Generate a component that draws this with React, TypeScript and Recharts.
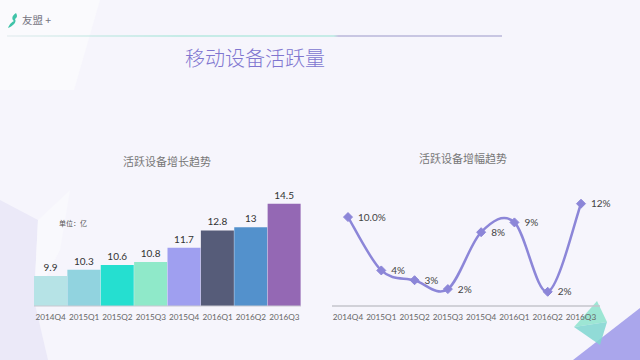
import { BarChart, Bar, LineChart, Line, XAxis, YAxis, Cell, LabelList } from "recharts"

const quarters = ["2014Q4", "2015Q1", "2015Q2", "2015Q3", "2015Q4", "2016Q1", "2016Q2", "2016Q3"]
const activeDevices = [9.9, 10.3, 10.6, 10.8, 11.7, 12.8, 13, 14.5]
const barColors = ["#b6e3e6", "#91d3df", "#25dfd0", "#8fe9c9", "#9f9ff0", "#565c79", "#5391cc", "#9468b4"]
const growthRates = [10.0, 4.0, 2.9, 1.9, 8.3, 9.4, 1.6, 11.5]
const growthLabels = ["10.0%", "4%", "3%", "2%", "8%", "9%", "2%", "12%"]

const LINE_COLOR = "#8c86d8"
const TICK_FONT = "Lato, 'Open Sans', sans-serif"
const CJK_FONT = "'Noto Sans CJK SC', sans-serif"

const barData = quarters.map((q, i) => ({ q, v: activeDevices[i] }))
const lineData = quarters.map((q, i) => ({ q, v: growthRates[i], label: growthLabels[i] }))

// catmull-rom style smoothing (the reference overshoots a little, less than "natural")
function smoothCurve(context: any) {
  let pts: [number, number][] = []
  return {
    areaStart() {},
    areaEnd() {},
    lineStart() {
      pts = []
    },
    lineEnd() {
      if (!pts.length) return
      context.moveTo(pts[0][0], pts[0][1])
      for (let i = 0; i < pts.length - 1; i++) {
        const p0 = pts[Math.max(0, i - 1)]
        const p1 = pts[i]
        const p2 = pts[i + 1]
        const p3 = pts[Math.min(pts.length - 1, i + 2)]
        context.bezierCurveTo(
          p1[0] + (p2[0] - p0[0]) / 6,
          p1[1] + (p2[1] - p0[1]) / 6,
          p2[0] - (p3[0] - p1[0]) / 6,
          p2[1] - (p3[1] - p1[1]) / 6,
          p2[0],
          p2[1]
        )
      }
    },
    point(x: number, y: number) {
      pts.push([+x, +y])
    },
  }
}

function DiamondDot(props: { cx?: number; cy?: number }) {
  const { cx = 0, cy = 0 } = props
  const r = 4.5
  return (
    <path
      d={`M${cx},${cy - r}L${cx + r},${cy}L${cx},${cy + r}L${cx - r},${cy}Z`}
      fill={LINE_COLOR}
      stroke={LINE_COLOR}
      strokeWidth={1}
    />
  )
}

function Background() {
  return (
    <svg width={640} height={360} style={{ position: "absolute", left: 0, top: 0 }}>
      <defs>
        <linearGradient id="headLine" x1="0" y1="0" x2="1" y2="0">
          <stop offset="0%" stopColor="#dfe9ec" />
          <stop offset="35%" stopColor="#96e2d2" />
          <stop offset="66%" stopColor="#96e2d2" />
          <stop offset="67%" stopColor="#9b97c9" />
          <stop offset="100%" stopColor="#9b97c9" />
        </linearGradient>
      </defs>
      <rect width={640} height={360} fill="#f6f5fc" />
      <polygon points="0,0 100,0 74,90 0,90" fill="#fafafd" />
      <polygon points="0,200 38,220 34,300 48,360 0,360" fill="#ebe9f8" />
      <polygon points="38,220 70,190 60,250 34,300" fill="#f9f9fd" />
      {/* bottom right decoration */}
      <polygon points="640,308 573,360 640,360" fill="#aaa6ec" />
      <polygon points="597,301 607,322 574,327" fill="#93e4cf" opacity={0.9} />
      <polygon points="574,327 607,322 600,345" fill="#7fd6d0" opacity={0.85} />
      {/* header */}
      <path d="M16,13 C11,16 12,20 14,21 C10,23 9,26 8,28 C13,26 17,22 15,19 C18,17 17,15 16,13 Z" fill="#3fc3a8" />
      <text x={22} y={24} fontSize={10.5} fill="#74747f" fontFamily={CJK_FONT}>
        友盟 +
      </text>
      <rect x={7} y={35.5} width={495} height={1} fill="url(#headLine)" />
      <text x={255} y={66} fontSize={20} fontWeight={300} fill="#8076d0" textAnchor="middle" fontFamily={CJK_FONT}>
        移动设备活跃量
      </text>
      <text x={167} y={166} fontSize={11} fill="#777" textAnchor="middle" fontFamily={CJK_FONT}>
        活跃设备增长趋势
      </text>
      <text x={463} y={163} fontSize={11} fill="#777" textAnchor="middle" fontFamily={CJK_FONT}>
        活跃设备增幅趋势
      </text>
      <text x={59} y={226} fontSize={7} fill="#555" fontFamily={CJK_FONT}>
        单位：亿
      </text>
    </svg>
  )
}

export default function App() {
  return (
    <div style={{ position: "fixed", left: 0, top: 0, width: 640, height: 360, overflow: "hidden" }}>
      <Background />
      <div style={{ position: "absolute", left: 0, top: 170 }}>
        <BarChart
          width={320}
          height={170}
          data={barData}
          margin={{ top: 10, right: 19, bottom: 0, left: 34 }}
          barCategoryGap={0}
        >
          <XAxis
            dataKey="q"
            height={34}
            tickLine={false}
            axisLine={{ stroke: "#c8c8d0" }}
            tick={{ fontSize: 8.2, fill: "#666", fontFamily: TICK_FONT }}
            interval={0}
          />
          <YAxis hide domain={[8, 16]} />
          <Bar dataKey="v" isAnimationActive={false}>
            {barData.map((d, i) => (
              <Cell key={d.q} fill={barColors[i]} />
            ))}
            <LabelList
              dataKey="v"
              position="top"
              offset={5}
              style={{ fontSize: 10, fill: "#333", fontFamily: TICK_FONT }}
            />
          </Bar>
        </BarChart>
      </div>
      <div style={{ position: "absolute", left: 320, top: 170 }}>
        <LineChart
          width={300}
          height={170}
          data={lineData}
          margin={{ top: 11.5, right: 20, bottom: 0, left: 12 }}
        >
          <XAxis
            dataKey="q"
            height={34}
            padding={{ left: 16, right: 19 }}
            tickLine={false}
            axisLine={{ stroke: "#c4c4cc", strokeWidth: 1.5 }}
            tick={{ fontSize: 8.2, fill: "#666", fontFamily: TICK_FONT }}
            interval={0}
          />
          <YAxis hide domain={[0, 14]} />
          <Line
            type={smoothCurve as any}
            dataKey="v"
            stroke={LINE_COLOR}
            strokeWidth={2.5}
            dot={<DiamondDot />}
            activeDot={false}
            isAnimationActive={false}
          >
            <LabelList
              dataKey="label"
              position="right"
              offset={10}
              style={{ fontSize: 10, fill: "#444", fontFamily: TICK_FONT }}
            />
          </Line>
        </LineChart>
      </div>
    </div>
  )
}
